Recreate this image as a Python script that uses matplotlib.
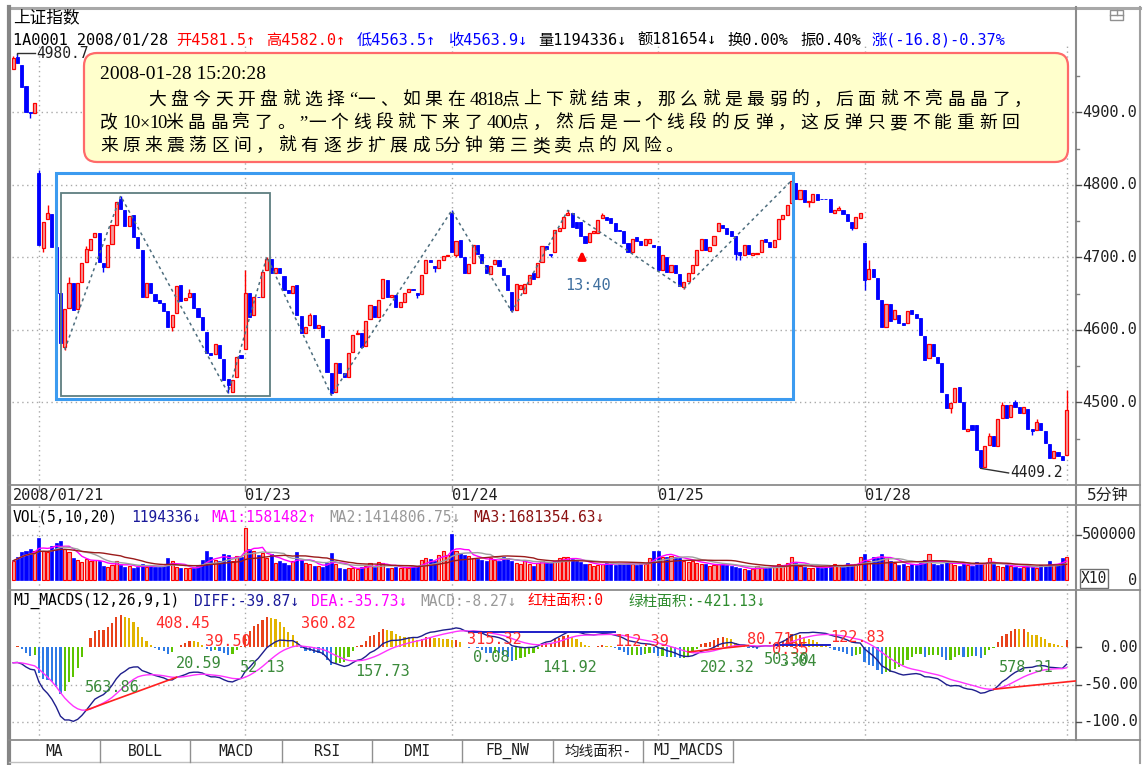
import numpy as np
import pandas as pd
import matplotlib
matplotlib.use("Agg")
import matplotlib.pyplot as plt
import matplotlib.transforms as mtrans
from matplotlib.patches import Rectangle, FancyBboxPatch

# ------------------------------------------------------------------ data
title_name = "上证指数"
day_labels = ["2008/01/21", "01/23", "01/24", "01/25", "01/28"]
day_label_bars = [0, 54, 102, 150, 198]
day_line_bars = [6, 54, 102, 150, 198, 245]

opens_0121 = [4960, 4976, 4965, 4936, 4901, 4899]
closes_0121 = [4975, 4968, 4935, 4901, 4899, 4913]
opens_0122 = [4817, 4713, 4753, 4760, 4715, 4651, 4577, 4630, 4665, 4629, 4666, 4694, 4710, 4728, 4734, 4692,
              4687, 4719, 4745, 4781, 4765, 4743, 4758, 4728, 4710, 4645, 4665, 4650, 4641, 4637, 4626, 4604,
              4623, 4662, 4641, 4645, 4651, 4630, 4618, 4597, 4568, 4567, 4579, 4560, 4532, 4515, 4535, 4565]
closes_0122 = [4717, 4749, 4761, 4714, 4651, 4582, 4629, 4665, 4628, 4665, 4692, 4712, 4725, 4734, 4694, 4687,
               4717, 4745, 4777, 4767, 4743, 4757, 4728, 4713, 4645, 4665, 4651, 4640, 4637, 4626, 4604, 4621,
               4660, 4640, 4644, 4651, 4630, 4618, 4600, 4568, 4565, 4580, 4562, 4531, 4524, 4531, 4563, 4561]
opens_0123 = [4574, 4651, 4621, 4646, 4646, 4683, 4698, 4679, 4686, 4675, 4655, 4651, 4662, 4619, 4596, 4607,
              4620, 4603, 4606, 4588, 4540, 4514, 4554, 4540, 4535, 4570, 4594, 4596, 4578, 4615, 4633, 4618,
              4644, 4669, 4645, 4648, 4632, 4639, 4653, 4657, 4651, 4649, 4678, 4697, 4688, 4686, 4697, 4702]
closes_0123 = [4651, 4618, 4646, 4645, 4680, 4698, 4679, 4686, 4679, 4655, 4651, 4661, 4621, 4596, 4604, 4621,
               4603, 4607, 4590, 4542, 4513, 4554, 4540, 4535, 4568, 4593, 4596, 4577, 4612, 4634, 4618, 4641,
               4670, 4646, 4648, 4632, 4638, 4651, 4656, 4655, 4648, 4676, 4696, 4694, 4685, 4696, 4702, 4704]
opens_0124 = [4761, 4703, 4724, 4701, 4679, 4692, 4717, 4705, 4690, 4677, 4691, 4697, 4685, 4676, 4652, 4627,
              4657, 4651, 4663, 4678, 4673, 4694, 4716, 4705, 4708, 4737, 4741, 4758, 4762, 4749, 4749, 4730,
              4722, 4734, 4734, 4755, 4756, 4755, 4748, 4738, 4736, 4720, 4707, 4728, 4723, 4717, 4720, 4717]
closes_0124 = [4708, 4723, 4701, 4679, 4691, 4717, 4705, 4692, 4678, 4688, 4697, 4688, 4676, 4655, 4627, 4663,
               4662, 4663, 4676, 4671, 4693, 4716, 4712, 4703, 4738, 4741, 4756, 4762, 4742, 4740, 4730, 4720,
               4734, 4736, 4752, 4758, 4752, 4748, 4737, 4736, 4720, 4707, 4726, 4723, 4717, 4726, 4725, 4715]
opens_0125 = [4716, 4683, 4701, 4680, 4690, 4677, 4659, 4667, 4679, 4690, 4711, 4726, 4709, 4717, 4737, 4745,
              4741, 4736, 4729, 4707, 4703, 4717, 4704, 4705, 4707, 4725, 4722, 4714, 4725, 4753, 4759, 4775,
              4803, 4781, 4793, 4777, 4776, 4788, 4781, 4781, 4780, 4762, 4766, 4765, 4760, 4749, 4740, 4755]
closes_0125 = [4683, 4703, 4680, 4689, 4678, 4661, 4666, 4678, 4690, 4711, 4726, 4711, 4715, 4730, 4747, 4740,
               4732, 4730, 4705, 4703, 4717, 4705, 4706, 4706, 4724, 4722, 4714, 4724, 4753, 4759, 4772, 4805,
               4780, 4793, 4776, 4778, 4788, 4779, 4780, 4780, 4763, 4765, 4768, 4760, 4751, 4740, 4756, 4761]
opens_0128 = [4720, 4671, 4684, 4672, 4641, 4604, 4636, 4615, 4620, 4609, 4609, 4627, 4622, 4616, 4592, 4561,
              4581, 4563, 4554, 4512, 4492, 4500, 4521, 4501, 4461, 4469, 4469, 4434, 4411, 4441, 4454, 4440,
              4478, 4497, 4480, 4501, 4494, 4485, 4491, 4464, 4462, 4472, 4460, 4443, 4423, 4432, 4426, 4427]
closes_0128 = [4669, 4684, 4673, 4643, 4604, 4636, 4613, 4628, 4609, 4607, 4626, 4622, 4617, 4593, 4559, 4581,
               4564, 4554, 4515, 4492, 4499, 4520, 4501, 4464, 4464, 4462, 4435, 4411, 4440, 4454, 4440, 4477,
               4497, 4478, 4496, 4494, 4485, 4494, 4464, 4460, 4473, 4462, 4444, 4424, 4433, 4426, 4420, 4490]

# wick extremes that stick out of the bodies (bar index -> price)
high_wicks = {0: 4978, 1: 4980.7, 6: 4820, 8: 4772, 13: 4673, 17: 4716, 25: 4785, 41: 4657, 54: 4683,
              59: 4701, 69: 4624, 80: 4600, 102: 4765, 129: 4765, 137: 4762, 181: 4806, 192: 4771,
              199: 4697, 220: 4522, 227: 4458, 230: 4500, 233: 4503, 238: 4477, 245: 4517}
low_wicks = {4: 4893, 7: 4708, 12: 4573, 21: 4680, 37: 4598, 50: 4513, 74: 4510, 94: 4644, 98: 4680,
             103: 4700, 116: 4625, 125: 4700, 156: 4657, 168: 4697, 169: 4696, 185: 4770, 195: 4738,
             198: 4655, 218: 4485, 225: 4409.2, 237: 4455}

# volume in thousands of axis units (axis is labelled X10)
vol_0121 = [213, 257, 306, 325, 343, 317]
vol_0122 = [466, 325, 306, 380, 414, 433, 343, 306, 243, 220, 205, 228, 213, 220, 213, 157, 146, 168, 213, 168,
            146, 157, 131, 146, 175, 146, 157, 146, 146, 157, 243, 213, 146, 131, 131, 131, 138, 157, 220, 325,
            257, 220, 213, 287, 280, 213, 268, 250]
vol_0123 = [575, 347, 317, 280, 295, 243, 287, 194, 213, 194, 168, 213, 313, 220, 194, 175, 157, 157, 146, 194,
            295, 183, 138, 119, 131, 138, 119, 146, 157, 194, 146, 205, 194, 138, 131, 146, 131, 146, 138, 157,
            157, 220, 243, 235, 213, 280, 325, 280]
vol_0124 = [511, 325, 295, 280, 268, 243, 235, 220, 213, 243, 220, 213, 257, 243, 213, 194, 175, 220, 175, 157,
            194, 213, 205, 194, 213, 243, 257, 250, 228, 213, 205, 183, 175, 157, 168, 175, 194, 183, 168, 175,
            183, 194, 175, 168, 175, 183, 243, 317]
vol_0125 = [325, 257, 257, 268, 250, 243, 213, 205, 213, 194, 175, 175, 157, 168, 175, 175, 168, 157, 146, 131,
            119, 112, 119, 157, 146, 138, 146, 157, 175, 168, 194, 257, 194, 157, 146, 138, 131, 146, 138, 146,
            157, 175, 157, 146, 194, 168, 175, 257]
vol_0128 = [287, 213, 257, 243, 287, 250, 213, 194, 168, 175, 157, 183, 168, 194, 220, 287, 175, 168, 183, 213,
            194, 168, 157, 183, 168, 157, 205, 175, 194, 243, 175, 157, 146, 168, 157, 146, 131, 146, 157, 146,
            138, 168, 157, 213, 175, 168, 243, 257]

macd_start_diff = -22.0
macd_start_dea = -21.0
ema12_gap_start = 8.0  # EMA12 above first close

price_ticks = [4500, 4600, 4700, 4800, 4900]
price_minor = [4450, 4550, 4650, 4750, 4850, 4950]
vol_tick = 500000
macd_ticks = [0, -50, -100]
macd_tick_labels = ["0.00", "-50.00", "-100.0"]
zigzag_bars = [12, 25, 50, 59, 74, 102, 116, 129, 156, 181]

header_parts = [("1A0001 2008/01/28", "black"), ("开4581.5↑", "#FF0000"), ("高4582.0↑", "#FF0000"),
                ("低4563.5↑", "#0000FF"), ("收4563.9↓", "#0000FF"), ("量1194336↓", "black"),
                ("额181654↓", "black"), ("换0.00%", "black"), ("振0.40%", "black"),
                ("涨(-16.8)-0.37%", "#0000FF")]
vol_title_parts = [("VOL(5,10,20)", "black"), ("1194336↓", "#1A1A9A"), ("MA1:1581482↑", "#FF00FF"),
                   ("MA2:1414806.75↓", "#999999"), ("MA3:1681354.63↓", "#8B1010")]
macd_title_parts = [("MJ_MACDS(12,26,9,1)", "black"), ("DIFF:-39.87↓", "#1A1A9A"), ("DEA:-35.73↓", "#FF00FF"),
                    ("MACD:-8.27↓", "#999999"), ("红柱面积:0", "#FF0000"), ("绿柱面积:-421.13↓", "#2E8B2E")]
red_area_labels = ["408.45", "39.50", "360.82", "315.32", "112.39", "80.71", "0.35", "122.83"]
green_area_labels = ["563.86", "20.59", "52.13", "157.73", "0.08", "141.92", "202.32", "50.30", "3.04", "578.31"]
tab_names = ["MA", "BOLL", "MACD", "RSI", "DMI", "FB_NW", "均线面积-", "MJ_MACDS"]
note_time = "2008-01-28 15:20:28"
note_lines = ["大盘今天开盘就选择“一、如果在4818点上下就结束，那么就是最弱的，后面就不亮晶晶了，",
              "改10×10米晶晶亮了。”一个线段就下来了400点，然后是一个线段的反弹，这反弹只要不能重新回",
              "来原来震荡区间，就有逐步扩展成5分钟第三类卖点的风险。"]

# ------------------------------------------------------------------ assemble
opens = np.array(opens_0121 + opens_0122 + opens_0123 + opens_0124 + opens_0125 + opens_0128, float)
closes = np.array(closes_0121 + closes_0122 + closes_0123 + closes_0124 + closes_0125 + closes_0128, float)
vol = np.array(vol_0121 + vol_0122 + vol_0123 + vol_0124 + vol_0125 + vol_0128, float) * 1000
n = len(closes)
idx = np.arange(n)
highs = np.maximum(opens, closes)
lows = np.minimum(opens, closes)
for k, v in high_wicks.items():
    highs[k] = v
for k, v in low_wicks.items():
    lows[k] = v
up = closes >= opens

# MACD(12,26,9)
e12 = closes[0] + ema12_gap_start
e26 = e12 - macd_start_diff
dea = macd_start_dea
diff_l, dea_l = [], []
for c in closes:
    e12 = e12 + 2 / 13 * (c - e12)
    e26 = e26 + 2 / 27 * (c - e26)
    d = e12 - e26
    dea = dea + 2 / 10 * (d - dea)
    diff_l.append(d)
    dea_l.append(dea)
diff = np.array(diff_l)
deas = np.array(dea_l)
hist = 2 * (diff - deas)
prev = np.concatenate([[hist[0]], hist[:-1]])
hcol = np.where(hist >= 0, np.where(hist >= prev, "#E8431B", "#E2B400"),
                np.where(hist <= prev, "#2F7BE6", "#5CC400"))

vs = pd.Series(vol)
ma5 = vs.rolling(5, min_periods=1).mean()
ma10 = vs.rolling(10, min_periods=1).mean()
ma20 = vs.rolling(20, min_periods=1).mean()

# ------------------------------------------------------------------ figure
W, H = 1148, 765
fig = plt.figure(figsize=(W / 100, H / 100), dpi=100)
fig.patch.set_facecolor("white")
MONO = ["DejaVu Sans Mono", "Noto Sans CJK SC"]
CJK = ["Noto Sans CJK SC", "DejaVu Sans"]


def add_ax(x0, y0, x1, y1, z):
    ax = fig.add_axes([x0 / W, 1 - y1 / H, (x1 - x0) / W, (y1 - y0) / H], zorder=z)
    ax.set_axis_off()
    ax.patch.set_alpha(0)
    return ax


bg = add_ax(0, 0, W, H, 0)
bg.set_xlim(0, W); bg.set_ylim(H, 0)
ov = add_ax(0, 0, W, H, 10)
ov.set_xlim(0, W); ov.set_ylim(H, 0)

SP = 4.30
X0 = (12 - 13.14) / SP
X1 = (1076 - 13.14) / SP

axp = add_ax(12, 45, 1076, 485, 2)
axp.set_xlim(X0, X1); axp.set_ylim(4386.2, 4993.1)
axv = add_ax(12, 505, 1076, 590, 2)
axv.set_xlim(X0, X1); axv.set_ylim(-111111, 833333)
axm = add_ax(12, 590, 1076, 740, 2)
axm.set_xlim(X0, X1); axm.set_ylim(-124, 76)

GRID = "#A9A9A9"
DOT = (0, (1, 2.5))
FRAME = "#8C8C8C"

# frame lines
bg.plot([8, 1140], [7.5, 7.5], color="#A8A8A8", lw=2.2)
bg.plot([9, 9], [7, 763], color="#858585", lw=3)
bg.plot([1139.5, 1139.5], [7, 763], color="#A0A0A0", lw=1.5)
bg.plot([1076, 1076], [7, 740], color=FRAME, lw=1.5)
for yy in (485, 505, 590, 740):
    bg.plot([9, 1140], [yy, yy], color=FRAME, lw=1.3)
bg.plot([9, 733], [762, 762], color="#C0C0C0", lw=1)
# small icon top-right
bg.add_patch(Rectangle((1110, 10), 13, 10, fill=False, ec="#909090", lw=1))
bg.plot([1110, 1123], [15, 15], color="#909090", lw=1)
bg.plot([1117, 1117], [10, 15], color="#909090", lw=1)

# ---- grid lines
for ax in (axp, axv, axm):
    for b in day_line_bars:
        ax.axvline(b, color=GRID, ls=DOT, lw=1, zorder=0)
for p in price_ticks:
    axp.axhline(p, color=GRID, ls=DOT, lw=1, zorder=0)
axv.axhline(vol_tick, color=GRID, ls=DOT, lw=1, zorder=0)
for m in macd_ticks[1:]:
    axm.axhline(m, color=GRID, ls=DOT, lw=1, zorder=0)

# ---- candles
RED_E, RED_F, BLUE = "#FF0000", "#F29C9C", "#0000FF"
axp.vlines(idx[up], lows[up], highs[up], color=RED_E, lw=1, zorder=2)
axp.vlines(idx[~up], lows[~up], highs[~up], color=BLUE, lw=1, zorder=2)
body = np.maximum(np.abs(closes - opens), 1.0)
bot = np.minimum(opens, closes)
axp.bar(idx[up], body[up], bottom=bot[up], width=0.72, color=RED_F, edgecolor=RED_E, linewidth=0.9, zorder=3)
axp.bar(idx[~up], body[~up], bottom=bot[~up], width=0.72, color=BLUE, edgecolor=BLUE, linewidth=0.6, zorder=3)

# zigzag segments
zz_vals = [lows[b] if k % 2 == 0 else highs[b] for k, b in enumerate(zigzag_bars)]
axp.plot(zigzag_bars, zz_vals, color="#4E6E7E", lw=1.1, ls=(0, (2, 2.2)), zorder=4)

# boxes
axp.add_patch(Rectangle((9.9, 4504.4), 181.3 - 9.9, 4817 - 4504.4, fill=False, ec="#3C9BF0", lw=2.2, zorder=5))
axp.add_patch(Rectangle((11.06, 4508.9), 59.7 - 11.06, 4789.4 - 4508.9, fill=False, ec="#5E7E80", lw=1.3,
                        zorder=5))

# high / low labels
axp.plot([1, 1, 5], [highs[1], highs[1] + 1.5, highs[1] + 1.5], color="#303030", lw=1, zorder=4)
axp.text(5.4, highs[1] + 0.5, "4980.7", fontsize=10.5, family=MONO, color="#202020", va="center", ha="left",
         zorder=4)
axp.plot([225, 231.5], [lows[225], lows[225] - 6.4], color="#303030", lw=1, zorder=4)
axp.text(231.9, lows[225] - 6.4, "4409.2", fontsize=10.5, family=MONO, color="#202020", va="center",
         ha="left", zorder=4)

# 13:40 marker
axp.annotate("", xy=(132.3, 4713), xytext=(132.3, 4693),
             arrowprops=dict(arrowstyle="-|>", color="#FF0000", lw=2.2, mutation_scale=11), zorder=6)
axp.text(128.3, 4662, "13:40", fontsize=11, family=MONO, color="#3F6F9F", va="center", ha="left", zorder=6)

# ---- volume
axv.bar(idx[up], vol[up], width=0.72, color=RED_F, edgecolor=RED_E, linewidth=0.8, zorder=2)
axv.bar(idx[~up], vol[~up], width=0.72, color=BLUE, edgecolor=BLUE, linewidth=0.5, zorder=2)
axv.plot(idx, ma5, color="#FF00FF", lw=1, zorder=3)
axv.plot(idx, ma10, color="#A0A0A0", lw=1, zorder=3)
axv.plot(idx, ma20, color="#9B1B1B", lw=1, zorder=3)

# ---- MACD
axm.bar(idx, hist, width=0.5, color=hcol, linewidth=0, zorder=2)
axm.plot(idx, diff, color="#1E1E8C", lw=1, zorder=3)
axm.plot(idx, deas, color="#FF33FF", lw=1, zorder=3)
axm.plot([17, 38], [deas[17], deas[38]], color="#FF2020", lw=1.2, zorder=4)
axm.plot([157, 171], [deas[157], deas[171]], color="#FF2020", lw=1.2, zorder=4)
axm.plot([106, 140], [diff[106], diff[106]], color="#1E1EC8", lw=1.4, zorder=4)
axm.plot([177, 190], [diff[177], diff[177]], color="#1E1EC8", lw=1.4, zorder=4)
axm.plot([228, X1], [deas[228], deas[228] + 0.58 * (X1 - 228)], color="#FF2020", lw=1.2, zorder=4)

# ---- right-hand axes labels
tp = mtrans.blended_transform_factory(bg.transData, axp.transData)
for p in price_ticks:
    ov.text(1082, p, f"{p:.1f}", transform=tp, fontsize=11, family=MONO, color="#202020", va="center",
            ha="left")
    ov.plot([1076, 1081], [p, p], transform=tp, color="#505050", lw=1)
for p in price_minor:
    ov.plot([1076, 1079], [p, p], transform=tp, color="#808080", lw=1)
tv = mtrans.blended_transform_factory(bg.transData, axv.transData)
ov.text(1082, vol_tick, f"{vol_tick}", transform=tv, fontsize=11, family=MONO, color="#202020", va="center",
        ha="left")
ov.plot([1076, 1081], [vol_tick, vol_tick], transform=tv, color="#505050", lw=1)
ov.text(1137, 0, "0", transform=tv, fontsize=11, family=MONO, color="#202020", va="center", ha="right")
tm = mtrans.blended_transform_factory(bg.transData, axm.transData)
for m, lab in zip(macd_ticks, macd_tick_labels):
    ov.text(1138, m, lab, transform=tm, fontsize=11, family=MONO, color="#202020", va="center", ha="right")
    ov.plot([1076, 1081], [m, m], transform=tm, color="#505050", lw=1)
bg.add_patch(Rectangle((1080, 569), 28, 19, fill=False, ec="#707070", lw=1))
ov.text(1094, 578.5, "X10", fontsize=10.5, family=MONO, color="#202020", va="center", ha="center")
ov.text(1108, 495, "5分钟", fontsize=11.5, family=MONO, color="#202020", va="center", ha="center")

# ---- date row
td = mtrans.blended_transform_factory(axp.transData, bg.transData)
for b, lab in zip(day_label_bars, day_labels):
    ov.text(b, 495, lab, transform=td, fontsize=11, family=MONO, color="#202020", va="center", ha="left")
for b in day_line_bars[:-1]:
    ov.plot([b, b], [485, 491], transform=td, color="#909090", lw=1)

# ---- headers
ov.text(13, 18, title_name, fontsize=12, family=CJK, color="black", va="center", ha="left")
header_x = [13, 176, 266, 357, 448, 538, 637, 727, 800, 871]
for (s, c), x in zip(header_parts, header_x):
    ov.text(x, 40, s, fontsize=11, family=MONO, color=c, va="center", ha="left")
vol_x = [13, 131, 211, 329, 473]
for (s, c), x in zip(vol_title_parts, vol_x):
    ov.text(x, 517, s, fontsize=10.5, family=MONO, color=c, va="center", ha="left")
macd_x = [13, 194, 311, 420, 527, 628]
for (s, c), x in zip(macd_title_parts, macd_x):
    ov.text(x, 601, s, fontsize=10.5, family=MONO, color=c, va="center", ha="left")

# ---- MACD area labels
red_pos = [(155, 623), (205, 641), (301, 623), (467, 640), (614, 642), (747, 640), (772, 649), (830, 638)]
green_pos = [(85, 687), (176, 663), (240, 667), (355, 672), (473, 658), (542, 667), (700, 668), (764, 660),
             (780, 661), (999, 668)]
for s, (x, y) in zip(red_area_labels, red_pos):
    ov.text(x, y, s, fontsize=11, family=MONO, color="#FF2A2A", va="center", ha="left")
for s, (x, y) in zip(green_area_labels, green_pos):
    ov.text(x, y, s, fontsize=11, family=MONO, color="#3A8A3A", va="center", ha="left")

# ---- tabs
tab_edges = [9, 100, 190, 282, 372, 462, 553, 643, 733]
for x in tab_edges[1:]:
    bg.plot([x, x], [740, 762], color="#909090", lw=1)
for k, name in enumerate(tab_names):
    ov.text((tab_edges[k] + tab_edges[k + 1]) / 2, 751, name, fontsize=10.5, family=MONO, color="#202020",
            va="center", ha="center")

# ---- annotation note
ov.add_patch(FancyBboxPatch((84, 53), 984, 109, boxstyle="round,pad=0,rounding_size=13",
                            fc="#FFFFCC", ec="#FF6A6A", lw=1.6, zorder=1))
ov.text(100, 79, note_time, fontsize=14, family=["Liberation Serif"], color="black", va="baseline",
        ha="left", zorder=2)


def char_line(x, y, s):
    for ch in s:
        if ch.isascii() and ch.isdigit():
            ov.text(x, y, ch, fontsize=13.5, family=["Liberation Serif"], color="black", va="baseline",
                    ha="left", zorder=2)
            x += 8.0
        elif ch == "×":
            ov.text(x + 1, y, ch, fontsize=13, family=["Liberation Serif", "DejaVu Sans"], color="black",
                    va="baseline", ha="left", zorder=2)
            x += 11
        elif ch in "“”":
            ov.text(x, y, ch, fontsize=13.5, family=["Liberation Serif"], color="black", va="baseline",
                    ha="left", zorder=2)
            x += 9
        else:
            ov.text(x, y, ch, fontsize=12.8, family=CJK, color="black", va="baseline", ha="left", zorder=2)
            x += 22.3


char_line(148, 105, note_lines[0])
char_line(100, 128, note_lines[1])
char_line(100, 151, note_lines[2])

fig.savefig("out.png", dpi=100, facecolor="white")
